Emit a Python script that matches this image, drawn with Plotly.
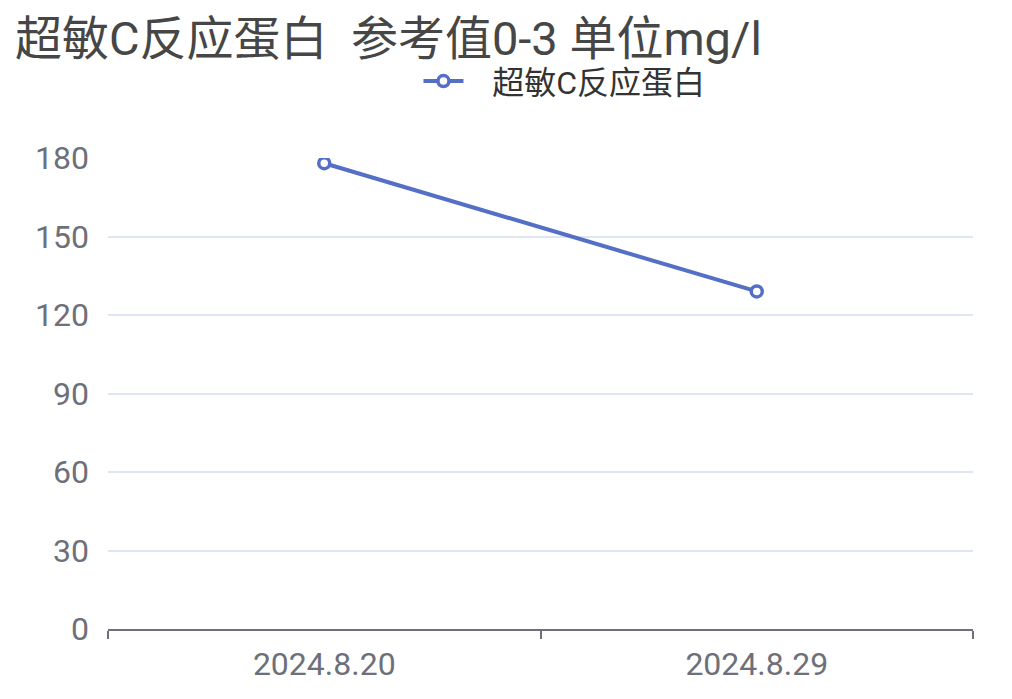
import plotly.graph_objects as go

dates = ["2024.8.20", "2024.8.29"]
values = [178, 129]
series_name = "超敏C反应蛋白"
title_text = "超敏C反应蛋白  参考值0-3 单位mg/l"
y_ticks = [0, 30, 60, 90, 120, 150, 180]

FONT = "Roboto, Noto Sans CJK SC"
fig = go.Figure()
fig.add_trace(go.Scatter(
    x=dates, y=values, name="\u00a0\u00a0\u00a0" + series_name, mode="lines+markers",
    line=dict(color="#5470C6", width=4),
    marker=dict(symbol="circle", size=11, color="white",
                line=dict(color="#5470C6", width=3.5)),
))
fig.update_layout(
    width=1012, height=699,
    margin=dict(l=100, r=47, t=150, b=78),
    paper_bgcolor="white", plot_bgcolor="white",
    title=dict(text=title_text, x=7/1012, xanchor="left", y=1-31/699, yanchor="middle",
               font=dict(family=FONT, size=47, color="#464646")),
    showlegend=True,
    legend=dict(orientation="h", x=0.5277, xanchor="center", y=1.163, yanchor="middle",
                font=dict(family=FONT, size=32, color="#333333"), itemwidth=40),
    font=dict(family=FONT),
)
fig.update_xaxes(
    type="category", range=[-0.5, 1.5], tickson="boundaries",
    showline=True, linecolor="#6E7079", linewidth=2,
    ticks="outside", ticklen=8, tickwidth=2, tickcolor="#6E7079",
    showgrid=False, tickfont=dict(family=FONT, size=32, color="#6E7079"),
    ticklabelstandoff=6,
)
fig.update_yaxes(
    range=[0, 180], tickvals=y_ticks, showline=False, zeroline=False,
    gridcolor="#E0E6F1", gridwidth=2,
    tickfont=dict(family=FONT, size=32, color="#6E7079"), ticklabelstandoff=18,
)
fig.write_html("out.html")
